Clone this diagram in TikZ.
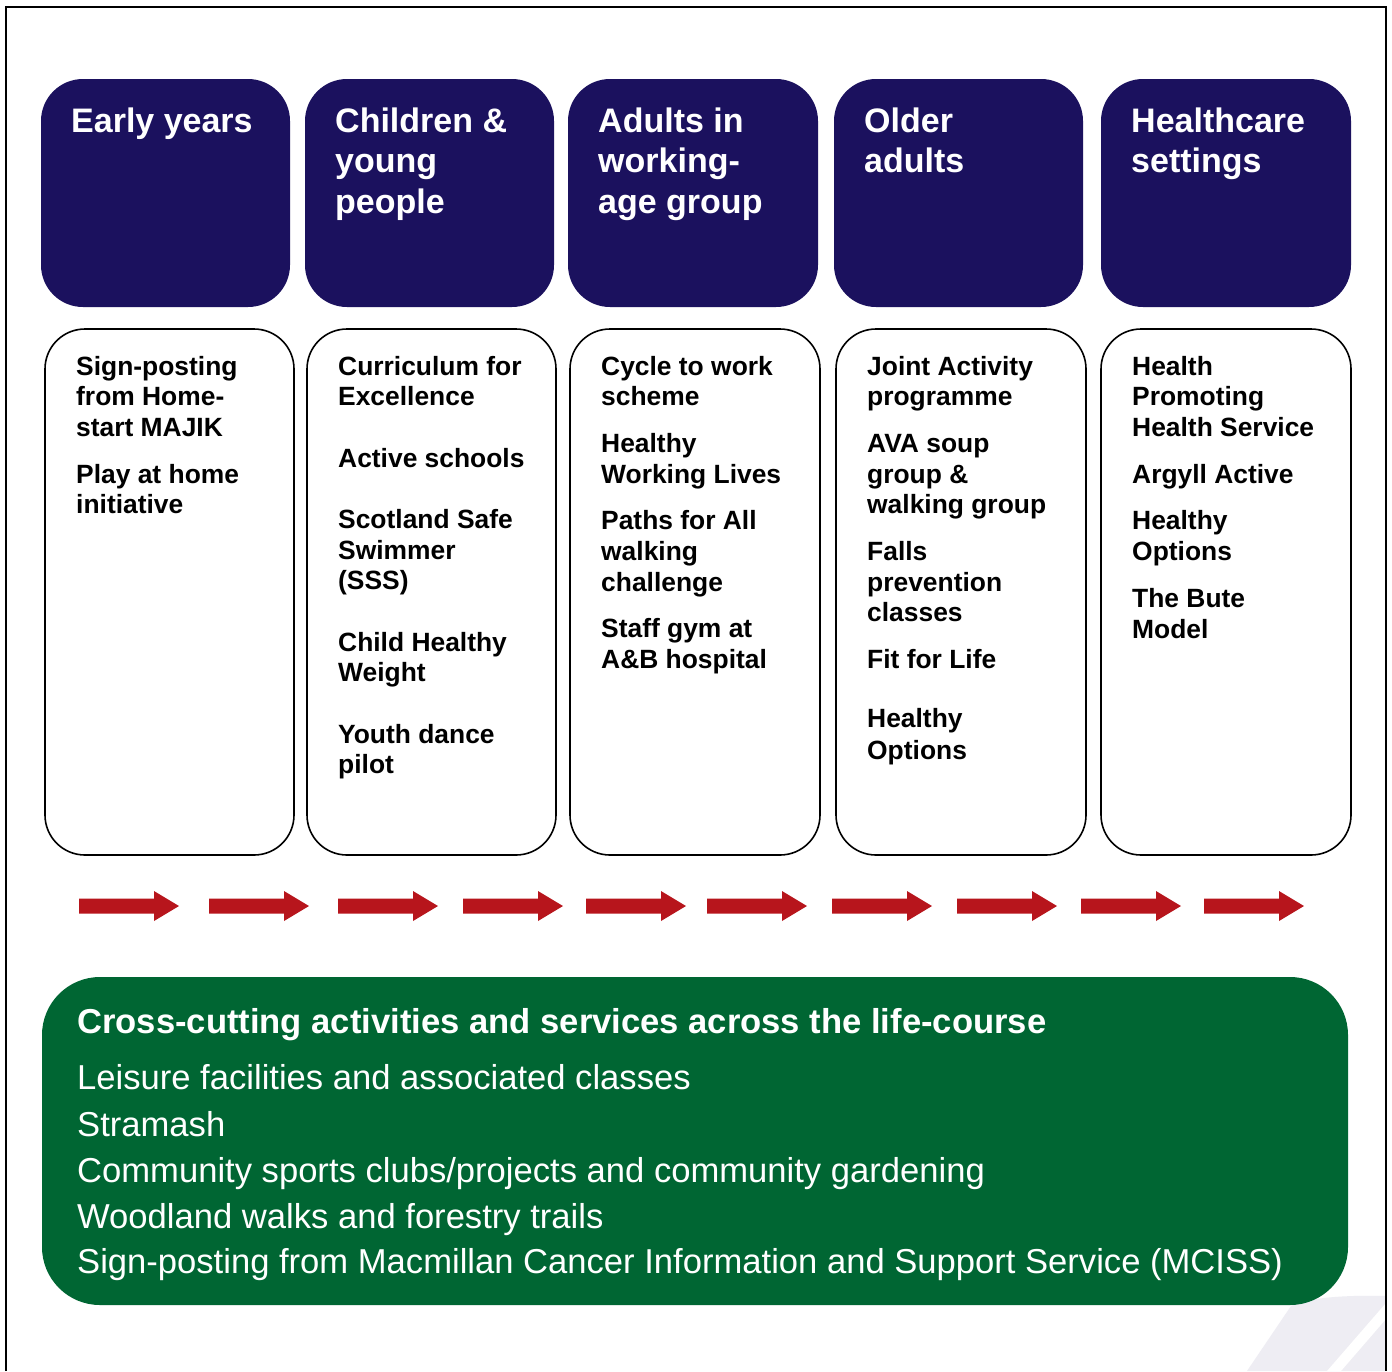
\documentclass[tikz,border=0pt]{standalone}
\usepackage{fontspec}
\setmainfont{Liberation Sans}
\definecolor{navy}{HTML}{1B115E}
\definecolor{dgreen}{HTML}{006633}
\definecolor{darrow}{HTML}{B7151C}
\definecolor{wmark}{HTML}{EEEDF3}
\begin{document}
\begin{tikzpicture}[x=1pt,y=-1pt,
  headbox/.style={fill=navy,draw=none,rounded corners=42pt},
  itembox/.style={draw=black,line width=1.6pt,fill=white,rounded corners=40pt},
  crossbox/.style={fill=dgreen,draw=none,rounded corners=58pt},
  headtxt/.style={anchor=base west,inner sep=0pt,text=white,font=\fontsize{34}{41}\selectfont\bfseries},
  bodytxt/.style={anchor=base west,inner sep=0pt,text=black,font=\fontsize{26.4}{30.5}\selectfont\bfseries},
  crosstitle/.style={anchor=base west,inner sep=0pt,text=white,font=\fontsize{34.6}{46}\selectfont\bfseries},
  crosstxt/.style={anchor=base west,inner sep=0pt,text=white,font=\fontsize{34.6}{46}\selectfont},
  redarrow/.style={fill=darrow,draw=none}]
\useasboundingbox (0,0) rectangle (1392,1371);
\fill[white] (0,0) rectangle (1392,1371);
% watermark
\fill[wmark] (1247,1371) -- (1293,1303) .. controls (1320,1297) and (1350,1295) .. (1386,1296) -- (1386,1371) -- cycle;
\fill[white] (1327,1371) -- (1341,1371) -- (1386,1319) -- (1386,1303) -- cycle;
% frame
\draw[line width=2pt] (6,1371) -- (6,7) -- (1385.5,7) -- (1385.5,1371);
% header boxes
\foreach \xa/\xb [count=\i] in {41/290,305/554,568/818,834/1083,1101/1351}
  \path[headbox] (\xa,79) rectangle (\xb,307);
% item boxes
\foreach \xa/\xb [count=\i] in {45/294,307/556,570/820,836/1086,1101/1351}
  \path[itembox] (\xa,329) rectangle (\xb,855);
% headers
\node[headtxt] (h1) at (71,132) {Early years};
\foreach \y/\t [count=\i] in {132/Children \&,172.5/young,213/people}
  \node[headtxt] (h2-\i) at (335,\y) {\t};
\foreach \y/\t [count=\i] in {132/Adults in,172.5/working-,213/age group}
  \node[headtxt] (h3-\i) at (598,\y) {\t};
\foreach \y/\t [count=\i] in {132/Older,172.5/adults}
  \node[headtxt] (h4-\i) at (864,\y) {\t};
\foreach \y/\t [count=\i] in {132/Healthcare,172.5/settings}
  \node[headtxt] (h5-\i) at (1131,\y) {\t};
% column 1
\foreach \y/\t [count=\i] in {375/Sign-posting,405/from Home-,436/start MAJIK,483/Play at home,513/initiative}
  \node[bodytxt] (c1-\i) at (76,\y) {\t};
% column 2
\foreach \y/\t [count=\i] in {375/Curriculum for,405/Excellence,467/Active schools,528/Scotland Safe,559/Swimmer,589/(SSS),651/Child Healthy,681/Weight,743/Youth dance,773/pilot}
  \node[bodytxt] (c2-\i) at (338,\y) {\t};
% column 3
\foreach \y/\t [count=\i] in {375/Cycle to work,405/scheme,452/Healthy,483/Working Lives,529/Paths for All,560/walking,591/challenge,637/Staff gym at,668/A\&B hospital}
  \node[bodytxt] (c3-\i) at (601,\y) {\t};
% column 4
\foreach \y/\t [count=\i] in {375/Joint Activity,405/programme,452/AVA soup,483/group \&,513/walking group,560/Falls,591/prevention,621/classes,668/Fit for Life,727/Healthy,759/Options}
  \node[bodytxt] (c4-\i) at (867,\y) {\t};
% column 5
\foreach \y/\t [count=\i] in {375/Health,405/Promoting,436/Health Service,483/Argyll Active,529/Healthy,560/Options,607/The Bute,638/Model}
  \node[bodytxt] (c5-\i) at (1132,\y) {\t};
% arrows
\foreach \x in {79,209,338,463,586,707,832,957,1081,1204}
  \fill[redarrow] (\x,898.5) -- ++(75,0) -- ++(0,-7.5) -- ++(25,15) -- ++(-25,15) -- ++(0,-7.5) -- ++(-75,0) -- cycle;
% cross-cutting box
\path[crossbox] (42,977) rectangle (1348,1305);
\node[crosstitle] (ct) at (77,1033) {Cross-cutting activities and services across the life-course};
\node[crosstxt] (l1) at (77,1089) {Leisure facilities and associated classes};
\node[crosstxt] (l2) at (77,1136) {Stramash};
\node[crosstxt] (l3) at (77,1182) {Community sports clubs/projects and community gardening};
\node[crosstxt] (l4) at (77,1228) {Woodland walks and forestry trails};
\node[crosstxt] (l5) at (77,1273) {Sign-posting from Macmillan Cancer Information and Support Service (MCISS)};
\end{tikzpicture}
\end{document}
